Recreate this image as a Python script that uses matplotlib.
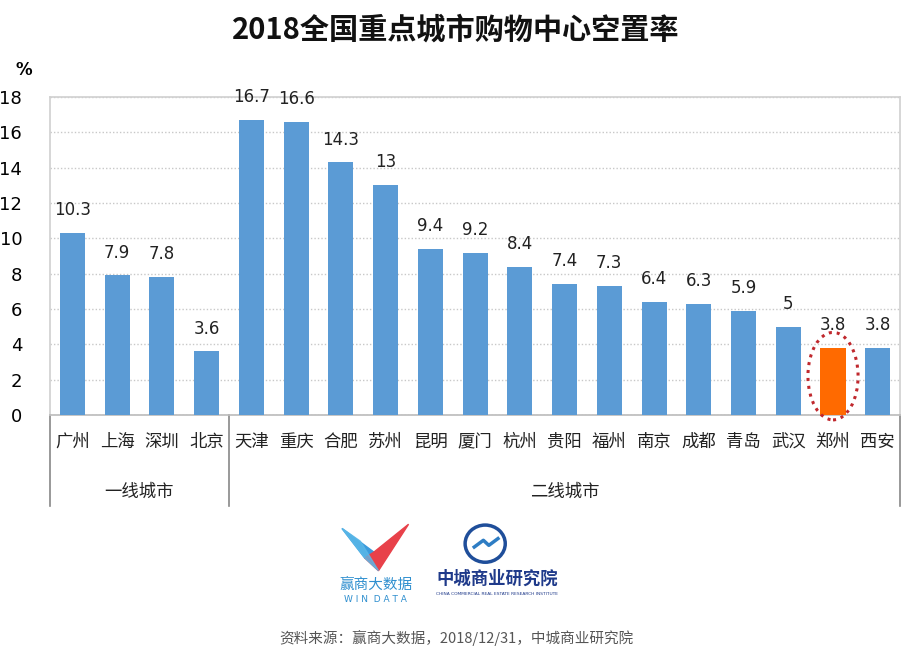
import numpy as np
import matplotlib
matplotlib.use('Agg')
import matplotlib.pyplot as plt
from matplotlib.patches import Ellipse, Polygon, Circle

plt.rcParams['font.family'] = ['Noto Sans CJK SC', 'DejaVu Sans']

cities = ['广州', '上海', '深圳', '北京', '天津', '重庆', '合肥', '苏州', '昆明', '厦门',
          '杭州', '贵阳', '福州', '南京', '成都', '青岛', '武汉', '郑州', '西安']
rates = [10.3, 7.9, 7.8, 3.6, 16.7, 16.6, 14.3, 13, 9.4, 9.2,
         8.4, 7.4, 7.3, 6.4, 6.3, 5.9, 5, 3.8, 3.8]
groups = ['一线城市', '二线城市']
group_sizes = [4, 15]
highlight = '郑州'

fig = plt.figure(figsize=(9.12, 6.5), dpi=100, facecolor='white')
ax = fig.add_axes([0.0548, 0.3615, 0.9322, 0.4892])

x = np.arange(len(cities))
colors = ['#FF6A00' if c == highlight else '#5B9BD5' for c in cities]
bars = ax.bar(x, rates, width=0.56, color=colors, zorder=3)
for xi, v in zip(x, rates):
    ax.annotate(f'{v:g}', (xi, v), xytext=(0, 10), textcoords='offset points',
                ha='center', va='bottom', fontsize=12, color='#222222',
                family=['DejaVu Sans'])

ax.set_xlim(-0.5, len(cities) - 0.5)
ax.set_ylim(0, 18)
ax.set_yticks(range(0, 19, 2))
ax.tick_params(axis='y', length=0, pad=20, labelsize=13)
ax.tick_params(axis='x', length=0, labelbottom=False)
for t in ax.get_yticklabels():
    t.set_family(['DejaVu Sans'])
ax.yaxis.grid(True, linestyle=(0, (1, 1.5)), color='#C8C8C8', linewidth=1, zorder=0)
for s in ax.spines.values():
    s.set_color('#D0D0D0')
    s.set_linewidth(1.2)
ax.spines['bottom'].set_color('#BBBBBB')
fig.text(0.017, 0.885, '%', fontsize=12, fontweight='bold', family=['DejaVu Sans'])

# highlight ellipse
hi = cities.index(highlight)
ax.add_patch(Ellipse((hi, 2.2), 1.12, 4.95, fill=False, edgecolor='#C0282D',
                     linestyle=(0, (1, 1.6)), linewidth=2.2, clip_on=False, zorder=4))

# category labels and group separators
trans = ax.get_xaxis_transform()
for xi, c in zip(x, cities):
    ax.text(xi, -0.085, c, transform=trans, ha='center', va='center', fontsize=12.5,
            color='#222222')
start = -0.5
bounds = [start]
for g, n in zip(groups, group_sizes):
    mid = start + n / 2
    ax.text(mid, -0.24, g, transform=trans, ha='center', va='center', fontsize=12.5,
            color='#222222')
    start += n
    bounds.append(start)
for b in bounds:
    ax.plot([b, b], [0, -0.285], transform=trans, color='#888888', linewidth=1.2,
            clip_on=False)

fig.text(0.5, 0.955, '2018全国重点城市购物中心空置率', ha='center', va='center',
         fontsize=21, fontweight='bold', color='#111111')

# logos
lx = fig.add_axes([0.37, 0.07, 0.30, 0.13])
lx.set_xlim(0, 300)
lx.set_ylim(0, 100)
lx.axis('off')
lx.add_patch(Polygon([[5, 90], [30, 55], [40, 62]], closed=True, color='#3A9BDC'))
lx.add_patch(Polygon([[30, 55], [45, 40], [78, 95], [40, 62]], closed=True, color='#E8414A'))
lx.add_patch(Polygon([[5, 90], [30, 55], [45, 40], [25, 75]], closed=True, color='#5BB8E8', alpha=0.8))
lx.text(42, 22, '赢商大数据', ha='center', va='center', fontsize=10.5, color='#2F8FCF')
lx.text(42, 6, 'W I N  D A T A', ha='center', va='center', fontsize=6.5, color='#2F8FCF',
        family=['DejaVu Sans'])
lx.add_patch(Circle((162, 72), 22, fill=False, edgecolor='#1F4E9A', linewidth=2.5))
lx.plot([150, 160, 166, 176], [68, 76, 70, 78], color='#2E7DC4', linewidth=2.5)
lx.text(175, 30, '中城商业研究院', ha='center', va='center', fontsize=12.5, color='#1F3A8A',
        fontweight='bold', family=['Noto Sans CJK SC'])
lx.text(175, 12, 'CHINA COMMERCIAL REAL ESTATE RESEARCH INSTITUTE', ha='center', va='center',
        fontsize=3.2, color='#1F3A8A', family=['DejaVu Sans'])

fig.text(0.5, 0.018, '资料来源：赢商大数据，2018/12/31，中城商业研究院', ha='center',
         va='center', fontsize=10.5, color='#555555')

fig.savefig('out.png', dpi=100, facecolor='white')
